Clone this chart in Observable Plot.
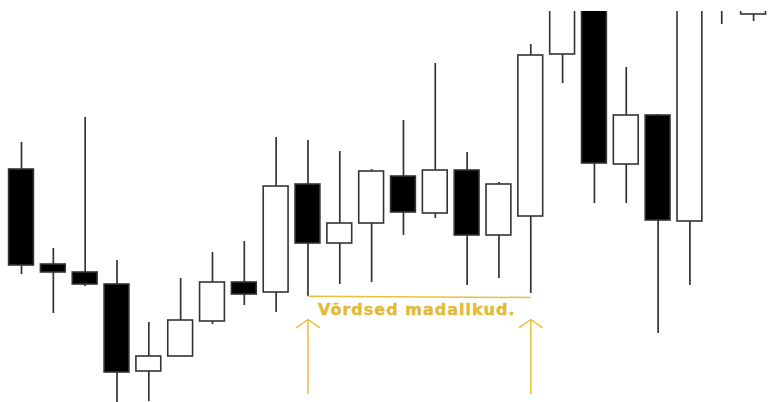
<!DOCTYPE html>
<html>
<head>
<meta charset="utf-8">
<script src="https://cdn.jsdelivr.net/npm/d3@7"></script>
<script src="https://cdn.jsdelivr.net/npm/@observablehq/plot@0.6"></script>
<style>
  html, body { margin: 0; padding: 0; background: #fff; }
  #chart { width: 783px; height: 402px; }
</style>
</head>
<body>
<div id="chart"></div>
<script>
// Candle values (arbitrary price units); 24 candles
const openP  = [233, 138, 130, 118,  31,  46,  81, 120, 110, 218, 159, 179, 226, 189, 232, 167, 186, 348, 430, 238, 287, 181, 410, 388];
const closeP = [137, 130, 118,  30,  46,  82, 120, 108, 216, 159, 179, 231, 190, 232, 167, 218, 347, 420, 239, 287, 182, 420, 420, 400];
const highP  = [260, 154, 285, 142,  80, 124, 150, 161, 265, 262, 251, 233, 282, 339, 250, 220, 358, 440, 445, 335, 288, 430, 440, 410];
const lowP   = [128,  89, 116,   0,   1,  46,  78,  97,  90, 106, 118, 120, 167, 184, 117, 124, 109, 319, 199, 199,  69, 117, 378, 381];

// Annotation
const annLabel = "Võrdsed madalikud.";
const annFrom = 9, annTo = 16;       // candle indices of the equal lows
const annLevel = [106.3, 105];       // level line (left, right)
const arrowBase = 9, arrowTip = 83;

const candles = closeP.map((c, i) => ({
  i, open: openP[i], close: closeP[i], high: highP[i], low: lowP[i],
  up: closeP[i] >= openP[i]
}));

const gold = "#e8c03c";
const ink = "#333333";

const chart = Plot.plot({
  width: 783,
  height: 402,
  marginTop: 11,
  marginBottom: 0,
  marginLeft: 0,
  marginRight: 0,
  x: {domain: [-0.66, 23.94], axis: null},
  y: {domain: [0, 391], axis: null},
  marks: [
    Plot.ruleX(candles, {x: "i", y1: "low", y2: "high", stroke: ink, strokeWidth: 1.7, clip: true}),
    Plot.rect(candles, {
      x1: d => d.i - 0.39, x2: d => d.i + 0.39,
      y1: "open", y2: "close",
      fill: d => d.up ? "#ffffff" : "#000000",
      stroke: ink, strokeWidth: 1.6, clip: true
    }),
    Plot.link([{x1: annFrom, x2: annTo, y1: annLevel[0], y2: annLevel[1]}], {
      x1: "x1", x2: "x2", y1: "y1", y2: "y2", stroke: gold, strokeWidth: 1.5
    }),
    Plot.arrow([annFrom, annTo], {
      x1: d => d, x2: d => d, y1: arrowBase, y2: arrowTip,
      stroke: gold, strokeWidth: 1.5, headLength: 14, headAngle: 110
    }),
    Plot.text([annLabel], {
      x: annFrom, y: 92.5, text: d => d, dx: 10,
      textAnchor: "start", fill: "#e3b936",
      stroke: "#e3b936", strokeWidth: 0.4,
      fontSize: 16, fontWeight: "bold", fontFamily: "DejaVu Sans"
    })
  ]
});
d3.select(chart).selectAll("text").style("letter-spacing", "1px");
document.getElementById("chart").appendChild(chart);
</script>
</body>
</html>
